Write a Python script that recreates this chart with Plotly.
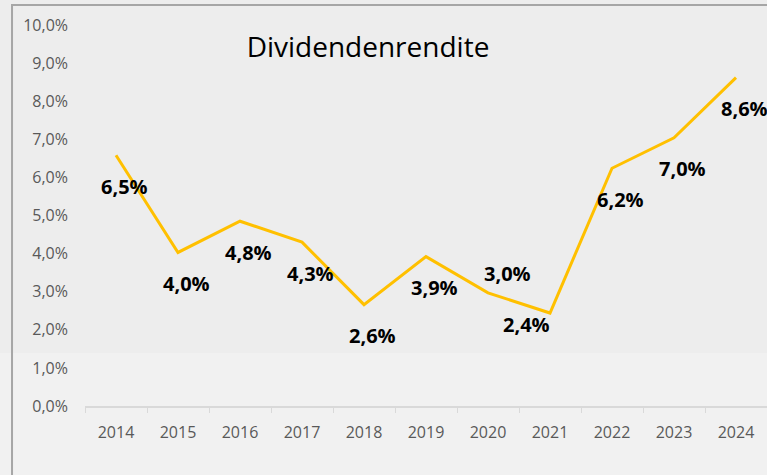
import plotly.graph_objects as go

years = [2014, 2015, 2016, 2017, 2018, 2019, 2020, 2021, 2022, 2023, 2024]
yield_pct = [6.58, 4.03, 4.85, 4.30, 2.66, 3.92, 2.97, 2.44, 6.24, 7.04, 8.62]
point_labels = ["6,5%", "4,0%", "4,8%", "4,3%", "2,6%", "3,9%", "3,0%", "2,4%", "6,2%", "7,0%", "8,6%"]
y_tickvals = [0, 1, 2, 3, 4, 5, 6, 7, 8, 9, 10]
y_ticktext = ["0,0%", "1,0%", "2,0%", "3,0%", "4,0%", "5,0%", "6,0%", "7,0%", "8,0%", "9,0%", "10,0%"]
title_text = "Dividendenrendite"

FONT = "Open Sans, Liberation Sans, sans-serif"

# label placement (style): default below-right, a few exceptions
label_shift = {2020: (19, 19), 2021: (-24, -11)}

fig = go.Figure()
fig.add_trace(go.Scatter(
    x=years, y=yield_pct, mode="lines",
    line=dict(color="#FFC000", width=3),
    hoverinfo="skip", showlegend=False,
))

for x, y, t in zip(years, yield_pct, point_labels):
    dx, dy = label_shift.get(x, (8, -31))
    fig.add_annotation(
        x=x, y=y, text="<b>" + t + "</b>", showarrow=False,
        xshift=dx, yshift=dy,
        font=dict(family=FONT, size=20, color="#000000"),
    )

# lighter lower band of the background
fig.add_shape(type="rect", xref="paper", yref="paper",
              x0=-0.2, x1=1.1, y0=-0.3, y1=0.139,
              line=dict(width=0), fillcolor="#F1F1F1", layer="below")
# chart border
fig.add_shape(type="rect", xref="paper", yref="paper",
              x0=-0.107, x1=1.1, y0=-0.3, y1=1.0525,
              line=dict(color="#A6A6A6", width=2), fillcolor="rgba(0,0,0,0)", layer="below")

fig.update_layout(
    width=767, height=475,
    margin=dict(l=85, r=0, t=25, b=69),
    paper_bgcolor="#EDEDED",
    plot_bgcolor="rgba(0,0,0,0)",
    font=dict(family=FONT, color="#595959"),
    title=dict(text=title_text, x=368/767, y=1-47/475, xanchor="center", yanchor="middle",
               font=dict(size=28, color="#000000", family=FONT)),
    xaxis=dict(
        range=[2013.5, 2024.5], tickmode="array", tickvals=years, ticktext=[str(v) for v in years],
        showgrid=False, zeroline=False, showline=True, linecolor="#D9D9D9", linewidth=1.5,
        ticks="", minor=dict(ticks="outside", tick0=2013.5, dtick=1, ticklen=5, tickcolor="#D9D9D9", showgrid=False),
        tickfont=dict(size=16, color="#595959"), ticklabelstandoff=11, fixedrange=True,
    ),
    yaxis=dict(
        range=[0, 10], tickvals=y_tickvals, ticktext=y_ticktext, showgrid=False,
        zeroline=False, showline=False, ticks="",
        tickfont=dict(size=16, color="#595959"), ticklabelstandoff=16, fixedrange=True,
    ),
)

fig.write_html("out.html", config={"displayModeBar": False},
               post_script="document.body.style.margin='0px';")
